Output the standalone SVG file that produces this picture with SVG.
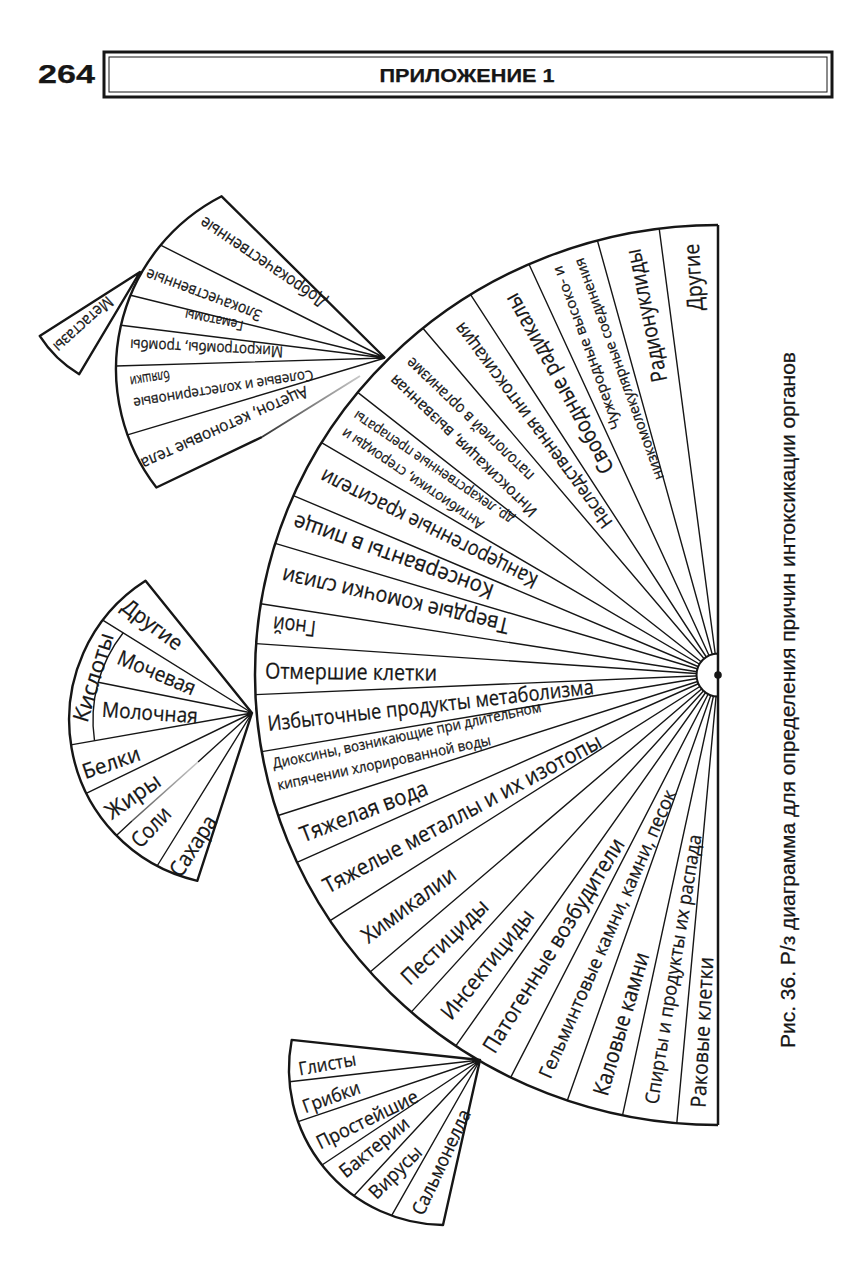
<svg xmlns="http://www.w3.org/2000/svg" width="853" height="1280" viewBox="0 0 853 1280">
<defs>
<style>
.o{fill:#fff;stroke:#161616;stroke-width:2.4;stroke-linejoin:round}
.a{fill:none;stroke:#161616;stroke-width:2.5}
.d{fill:none;stroke:#161616;stroke-width:1.4}
text{font-family:"Open Sans","DejaVu Sans",sans-serif;fill:#161616;stroke:#161616;stroke-width:0.25;dominant-baseline:central}
.e{text-anchor:end}
.m{text-anchor:middle}
.hd{font-family:"Liberation Sans",Arial,sans-serif;font-weight:bold;dominant-baseline:auto}
.cap{font-family:"Liberation Sans",Arial,sans-serif}
</style>
<linearGradient id="g1" gradientUnits="userSpaceOnUse" x1="262" y1="437" x2="360" y2="376">
<stop offset="0" stop-color="#333"/><stop offset="1" stop-color="#c8c8c8"/></linearGradient>
<linearGradient id="g2" gradientUnits="userSpaceOnUse" x1="132" y1="821" x2="198" y2="762">
<stop offset="0" stop-color="#555"/><stop offset="1" stop-color="#c8c8c8"/></linearGradient>
</defs>
<rect width="853" height="1280" fill="#fff"/>

<g id="header">
<text class="hd" x="38" y="83" font-size="25" textLength="57" lengthAdjust="spacingAndGlyphs">264</text>
<rect x="104" y="52" width="728" height="45" fill="none" stroke="#161616" stroke-width="3"/>
<rect x="109" y="57" width="718" height="35" fill="none" stroke="#161616" stroke-width="1"/>
<text class="hd m" x="467" y="82" font-size="19" textLength="175" lengthAdjust="spacingAndGlyphs">ПРИЛОЖЕНИЕ 1</text>
</g>

<g id="main-fan">
<path class="a" d="M718,225 A463,450 0 0 0 255,675 A463,450 0 0 0 718,1125"/>
</g>

<g id="connectors">
<path class="d" d="M659.2,228.6L718,675M597.4,240.5L718,675M529,264.2L718,675M470.6,294.6L718,675M422.9,328.3L718,675M357.7,392.4L718,675M321.5,442.6L718,675M293.4,495.6L718,675M275.2,543.4L718,675M260.8,603.8L718,675M256.1,643.6L718,675M255.5,694.6L718,675M261.8,751.6L718,675M278.1,815.5L718,675M297,862.3L718,675M330.1,920.7L718,675M370.1,972L718,675M411.2,1012.1L718,675M455.8,1045.8L718,675M510.7,1077.4L718,675M567.3,1100.5L718,675M622.5,1115.3L718,675M676.8,1123.2L718,675"/>
</g>

<g id="hub">
<path d="M718,653.5 A21.5,21.5 0 0 0 718,696.5 Z" fill="#fff" stroke="#161616" stroke-width="2"/>
<path class="a" d="M718,225V1125"/>
<circle cx="718" cy="675" r="3.8" fill="#161616"/>
</g>

<g id="main-labels">
<text class="e" transform="translate(689.7,243.9) rotate(-93.75)" font-size="22" textLength="67" lengthAdjust="spacingAndGlyphs">Другие</text>
<text class="e" transform="translate(631.4,249.7) rotate(-101.5)" font-size="22" textLength="135" lengthAdjust="spacingAndGlyphs">Радионуклиды</text>
<g transform="translate(567.3,262.8) rotate(-110.1)" font-size="14.5">
<text class="e" y="-11.5" textLength="173" lengthAdjust="spacingAndGlyphs">Чужеродные высоко- и</text>
<text class="e" y="11.5" textLength="235" lengthAdjust="spacingAndGlyphs">низкомолекулярные соединения</text>
</g>
<text class="e" transform="translate(508.9,295.9) rotate(-118.9)" font-size="22" textLength="202" lengthAdjust="spacingAndGlyphs">Свободные радикалы</text>
<text class="e" transform="translate(457.3,325.5) rotate(-126.7)" font-size="18.5" textLength="251" lengthAdjust="spacingAndGlyphs">Наследственная интоксикация</text>
<g transform="translate(399.9,369.5) rotate(-136.2)" font-size="16">
<text class="e" y="-12" textLength="197" lengthAdjust="spacingAndGlyphs">Интоксикация, вызванная</text>
<text class="e" y="12" textLength="170" lengthAdjust="spacingAndGlyphs">патологией в организме</text>
</g>
<g transform="translate(348.5,423.5) rotate(-145.8)" font-size="14.5">
<text class="e" y="-10.5" textLength="168" lengthAdjust="spacingAndGlyphs">Антибиотики, стероиды и</text>
<text class="e" y="10.5" textLength="190" lengthAdjust="spacingAndGlyphs">др. лекарственные препараты</text>
</g>
<text class="e" transform="translate(321.2,475.9) rotate(-153.4)" font-size="21" textLength="240" lengthAdjust="spacingAndGlyphs">Канцерогенные красители</text>
<text class="e" transform="translate(293.5,522.8) rotate(-160.3)" font-size="22" textLength="211" lengthAdjust="spacingAndGlyphs">Консерванты в пище</text>
<text class="e" transform="translate(281.9,576.8) rotate(-167.3)" font-size="22" textLength="232" lengthAdjust="spacingAndGlyphs">Твердые комочки слизи</text>
<text class="e" transform="translate(272.8,625.4) rotate(-173.6)" font-size="22" textLength="43" lengthAdjust="spacingAndGlyphs">Гной</text>
<text transform="translate(265,669.5) rotate(0.7)" font-size="22" textLength="172" lengthAdjust="spacingAndGlyphs">Отмершие клетки</text>
<text transform="translate(267.5,723) rotate(-6.5)" font-size="21" textLength="328" lengthAdjust="spacingAndGlyphs">Избыточные продукты метаболизма</text>
<g transform="translate(275,774) rotate(-12)" font-size="14.5">
<text y="-11" textLength="274" lengthAdjust="spacingAndGlyphs">Диоксины, возникающие при длительном</text>
<text y="11" textLength="218" lengthAdjust="spacingAndGlyphs">кипячении хлорированной воды</text>
</g>
<text transform="translate(300.3,834.1) rotate(-21)" font-size="22" textLength="135" lengthAdjust="spacingAndGlyphs">Тяжелая вода</text>
<text transform="translate(324,886) rotate(-28.2)" font-size="22" textLength="312" lengthAdjust="spacingAndGlyphs">Тяжелые металлы и их изотопы</text>
<text transform="translate(363.1,936.8) rotate(-36.4)" font-size="22" textLength="111" lengthAdjust="spacingAndGlyphs">Химикалии</text>
<text transform="translate(403.4,979.8) rotate(-44.1)" font-size="22" textLength="112" lengthAdjust="spacingAndGlyphs">Пестициды</text>
<text transform="translate(444.2,1015.6) rotate(-51.2)" font-size="22" textLength="134" lengthAdjust="spacingAndGlyphs">Инсектициды</text>
<text transform="translate(487,1050) rotate(-58.2)" font-size="22" textLength="248" lengthAdjust="spacingAndGlyphs">Патогенные возбудители</text>
<text transform="translate(544.2,1077) rotate(-66.3)" font-size="19" textLength="313" lengthAdjust="spacingAndGlyphs">Гельминтовые камни, камни, песок</text>
<text transform="translate(598.8,1094.4) rotate(-73.5)" font-size="22" textLength="148" lengthAdjust="spacingAndGlyphs">Каловые камни</text>
<text transform="translate(651,1104) rotate(-80.8)" font-size="19" textLength="273" lengthAdjust="spacingAndGlyphs">Спирты и продукты их распада</text>
<text transform="translate(697.5,1107.6) rotate(-87)" font-size="21" textLength="151" lengthAdjust="spacingAndGlyphs">Раковые клетки</text>
</g>

<g id="fan-tumors">
<path d="M385,358 L221.6,196.3 A194,194 0 0 0 156.4,487.5 L262,437" fill="#fff" stroke="#161616" stroke-width="2.4" stroke-linejoin="round"/>
<path d="M262,437L360,376" fill="none" stroke="url(#g1)" stroke-width="2"/>
<path class="d" d="M385,358L160.6,245.2M385,358L130.6,295.2M385,358L121,325.2M385,358L116,366M385,358L127.5,434.8"/>
<text class="m" transform="translate(262.5,263) rotate(-146)" font-size="17" textLength="148" lengthAdjust="spacingAndGlyphs">Доброкачественные</text>
<text class="m" transform="translate(203.5,295.5) rotate(-159.5)" font-size="16" textLength="122" lengthAdjust="spacingAndGlyphs">Злокачественные</text>
<text class="m" transform="translate(214,321) rotate(-169)" font-size="14" textLength="59" lengthAdjust="spacingAndGlyphs">Гематомы</text>
<text class="m" transform="translate(206.5,349) rotate(-177.3)" font-size="15.5" textLength="153" lengthAdjust="spacingAndGlyphs">Микротромбы, тромбы</text>
<g transform="translate(132,393) rotate(171)" font-size="14.5">
<text class="e" y="-11" textLength="182" lengthAdjust="spacingAndGlyphs">Солевые и холестериновые</text>
<text class="e" y="11" textLength="40" lengthAdjust="spacingAndGlyphs">бляшки</text>
</g>
<text class="m" transform="translate(225,428.5) rotate(156)" font-size="16.5" textLength="181" lengthAdjust="spacingAndGlyphs">Ацетон, кетоновые тела</text>
</g>

<g id="fan-metastases">
<path class="o" d="M140,272 L39.7,335.9 A119,119 0 0 0 79.2,374.2 Z"/>
<text class="m" transform="translate(84,325) rotate(137.7)" font-size="16.5" textLength="74" lengthAdjust="spacingAndGlyphs">Метастазы</text>
</g>

<g id="fan-metabolism">
<path class="o" d="M252,713 L145.5,580.8 A165,165 0 0 0 197.3,880.8 Z"/>
<path class="d" d="M123.2,632.8 A141,141 0 0 0 94.5,740.7"/>
<path class="d" d="M252,713L102.7,620.1M252,713L98.1,682.3M252,713L70.9,744.9M252,713L86.2,793.4M252,713L198,762M132,821L116.4,835.6M252,713L157.1,866"/>
<path d="M198,762L132,821" fill="none" stroke="url(#g2)" stroke-width="1.6"/>
<text class="m" transform="translate(153,624) rotate(37)" font-size="21" textLength="70" lengthAdjust="spacingAndGlyphs">Другие</text>
<text class="m" transform="translate(92,677) rotate(-73)" font-size="22" textLength="92" lengthAdjust="spacingAndGlyphs">Кислоты</text>
<text class="m" transform="translate(157,672) rotate(23)" font-size="21" textLength="83" lengthAdjust="spacingAndGlyphs">Мочевая</text>
<text class="m" transform="translate(150,712) rotate(4)" font-size="21" textLength="96" lengthAdjust="spacingAndGlyphs">Молочная</text>
<text class="m" transform="translate(111,762) rotate(-19)" font-size="21" textLength="60" lengthAdjust="spacingAndGlyphs">Белки</text>
<text class="m" transform="translate(132,795) rotate(-35)" font-size="22" textLength="62" lengthAdjust="spacingAndGlyphs">Жиры</text>
<text class="m" transform="translate(150,826) rotate(-47)" font-size="22" textLength="47" lengthAdjust="spacingAndGlyphs">Соли</text>
<text class="m" transform="translate(192,845) rotate(-57)" font-size="22" textLength="68" lengthAdjust="spacingAndGlyphs">Сахара</text>
</g>

<g id="fan-pathogens">
<path class="o" d="M480,1060 L291.7,1039.9 A156,156 0 0 0 443,1225 Z"/>
<path class="d" d="M480,1060L289.5,1081.8M480,1060L298.1,1121.6M480,1060L322,1165M480,1060L353.9,1195.7M480,1060L391.6,1215.6"/>
<text class="m" transform="translate(327,1063) rotate(-10)" font-size="18.5" textLength="58" lengthAdjust="spacingAndGlyphs">Глисты</text>
<text class="m" transform="translate(331,1096) rotate(-20)" font-size="18.5" textLength="60" lengthAdjust="spacingAndGlyphs">Грибки</text>
<text class="m" transform="translate(367,1119) rotate(-26)" font-size="19" textLength="111" lengthAdjust="spacingAndGlyphs">Простейшие</text>
<text class="m" transform="translate(374,1147) rotate(-39)" font-size="19" textLength="84" lengthAdjust="spacingAndGlyphs">Бактерии</text>
<text class="m" transform="translate(395,1172) rotate(-45)" font-size="19" textLength="66" lengthAdjust="spacingAndGlyphs">Вирусы</text>
<text class="m" transform="translate(441,1162) rotate(-65)" font-size="19" textLength="114" lengthAdjust="spacingAndGlyphs">Сальмонелла</text>
</g>

<g id="caption">
<text class="cap" transform="translate(787,1048) rotate(-90)" font-size="21" textLength="696" lengthAdjust="spacingAndGlyphs">Рис. 36. Р/з диаграмма для определения причин интоксикации органов</text>
</g>
</svg>
